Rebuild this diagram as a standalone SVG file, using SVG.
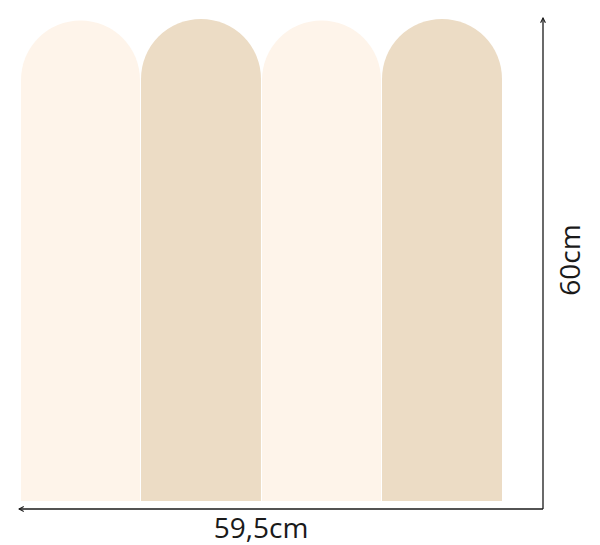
<svg xmlns="http://www.w3.org/2000/svg" width="600" height="545" viewBox="0 0 600 545">
<defs>
<style>
.light{fill:#FEF4EA}
.tan{fill:#ECDCC5}
.dim{stroke:#1a1a1a;stroke-width:1.3;fill:none}
.lbl{font-family:"Open Sans","DejaVu Sans",sans-serif;font-size:28px;fill:#1a1a1a}
</style>
<marker id="arr" viewBox="0 0 10 10" refX="9" refY="5" markerWidth="6" markerHeight="6" orient="auto-start-reverse" markerUnits="userSpaceOnUse">
<path d="M1,1 L9,5 L1,9" fill="none" stroke="#1a1a1a" stroke-width="1.8"/>
</marker>
</defs>
<rect width="600" height="545" fill="#fff"/>
<g id="panel1"><path class="light" d="M21,501 V80 A59.5,59.5 0 0 1 140,80 V501 Z"/></g>
<g id="panel2"><path class="tan" d="M141,501 V79 A60,60 0 0 1 261,79 V501 Z"/></g>
<g id="panel3"><path class="light" d="M262,501 V80 A59.5,59.5 0 0 1 381,80 V501 Z"/></g>
<g id="panel4"><path class="tan" d="M382,501 V79 A60,60 0 0 1 502,79 V501 Z"/></g>
<g id="connectors">
<line class="dim" x1="19" y1="509" x2="543" y2="509" marker-start="url(#arr)"/>
<line class="dim" x1="543" y1="509" x2="543" y2="18" marker-end="url(#arr)"/>
</g>
<g id="labels">
<text class="lbl" x="261" y="538" text-anchor="middle">59,5cm</text>
<text class="lbl" transform="translate(580,260) rotate(-90)" text-anchor="middle">60cm</text>
</g>
</svg>
